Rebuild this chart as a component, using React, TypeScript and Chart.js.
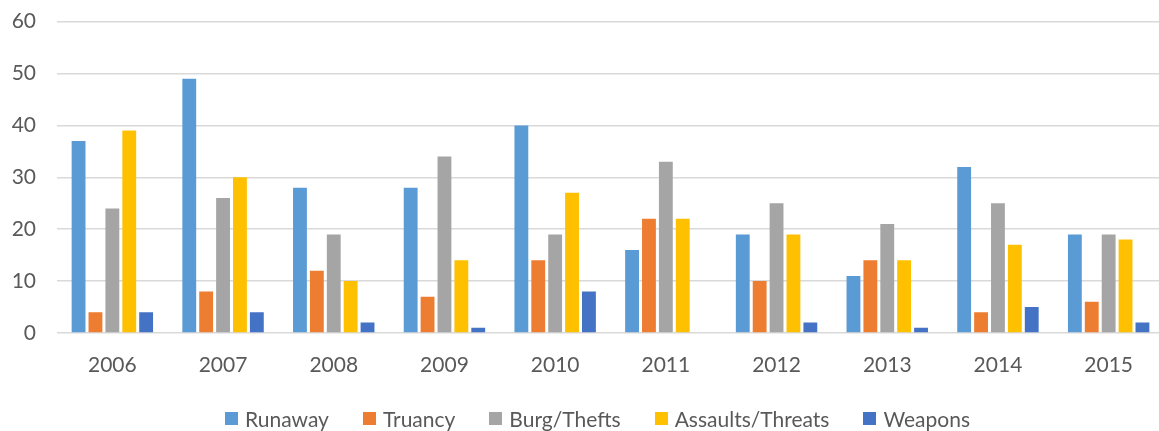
import React, { useEffect, useRef } from "react";
import { Chart, registerables } from "chart.js";

Chart.register(...registerables);

const YEARS = ["2006", "2007", "2008", "2009", "2010", "2011", "2012", "2013", "2014", "2015"];
const RUNAWAY = [37, 49, 28, 28, 40, 16, 19, 11, 32, 19];
const TRUANCY = [4, 8, 12, 7, 14, 22, 10, 14, 4, 6];
const BURG_THEFTS = [24, 26, 19, 34, 19, 33, 25, 21, 25, 19];
const ASSAULTS_THREATS = [39, 30, 10, 14, 27, 22, 19, 14, 17, 18];
const WEAPONS = [4, 4, 2, 1, 8, 0, 2, 1, 5, 2];
const SERIES_NAMES = ["Runaway", "Truancy", "Burg/Thefts", "Assaults/Threats", "Weapons"];
const SERIES_VALUES = [RUNAWAY, TRUANCY, BURG_THEFTS, ASSAULTS_THREATS, WEAPONS];
const COLORS = ["#5B9BD5", "#ED7D31", "#A5A5A5", "#FFC000", "#4472C4"];
const Y_MIN = 0;
const Y_MAX = 60;
const Y_STEP = 10;

const FONT = "Lato, 'Liberation Sans', sans-serif";
const TEXT_COLOR = "#595959";

export default function App() {
  const canvasRef = useRef<HTMLCanvasElement | null>(null);

  useEffect(() => {
    const canvas = canvasRef.current;
    if (!canvas) return;
    const chart = new Chart(canvas, {
      type: "bar",
      data: {
        labels: YEARS,
        datasets: SERIES_NAMES.map((name, i) => ({
          label: name,
          data: SERIES_VALUES[i],
          backgroundColor: COLORS[i],
          borderWidth: 0,
          categoryPercentage: 0.763,
          barPercentage: 0.82,
        })),
      },
      options: {
        responsive: false,
        maintainAspectRatio: false,
        animation: false,
        layout: { padding: { top: 8, right: 0, bottom: 54, left: 0 } },
        plugins: {
          legend: { display: false },
          tooltip: { enabled: false },
        },
        scales: {
          x: {
            grid: { display: false, drawTicks: false },
            border: { display: false },
            ticks: {
              color: TEXT_COLOR,
              font: { family: FONT, size: 21 },
              padding: 20,
              maxRotation: 0,
            },
            afterFit: (s: any) => {
              s.height = 44;
            },
          },
          y: {
            min: Y_MIN,
            max: Y_MAX,
            grid: { color: "#D9D9D9", lineWidth: 1.5, drawTicks: false },
            border: { display: false },
            ticks: {
              stepSize: Y_STEP,
              color: TEXT_COLOR,
              font: { family: FONT, size: 21 },
              padding: 21,
            },
            afterFit: (s: any) => {
              s.width = 57;
            },
          },
        },
      },
    });
    return () => chart.destroy();
  }, []);

  return (
    <div
      style={{
        position: "fixed",
        left: 0,
        top: 0,
        width: 1159,
        height: 431,
        overflow: "hidden",
        background: "#fff",
      }}
    >
      <canvas
        ref={canvasRef}
        width={1164}
        height={443}
        style={{ position: "absolute", left: 0, top: -12, width: 1164, height: 443 }}
      />
      <div
        style={{
          position: "absolute",
          left: 0,
          top: 406,
          width: 1195,
          height: 25,
          display: "flex",
          justifyContent: "center",
          alignItems: "center",
          gap: 34,
          fontFamily: FONT,
          fontSize: 21,
          lineHeight: "25px",
          color: TEXT_COLOR,
          whiteSpace: "nowrap",
        }}
      >
        {SERIES_NAMES.map((name, i) => (
          <div key={name} style={{ display: "flex", alignItems: "center" }}>
            <span
              style={{
                display: "inline-block",
                width: 13,
                height: 13,
                background: COLORS[i],
                marginRight: 7,
              }}
            />
            <span>{name}</span>
          </div>
        ))}
      </div>
    </div>
  );
}
